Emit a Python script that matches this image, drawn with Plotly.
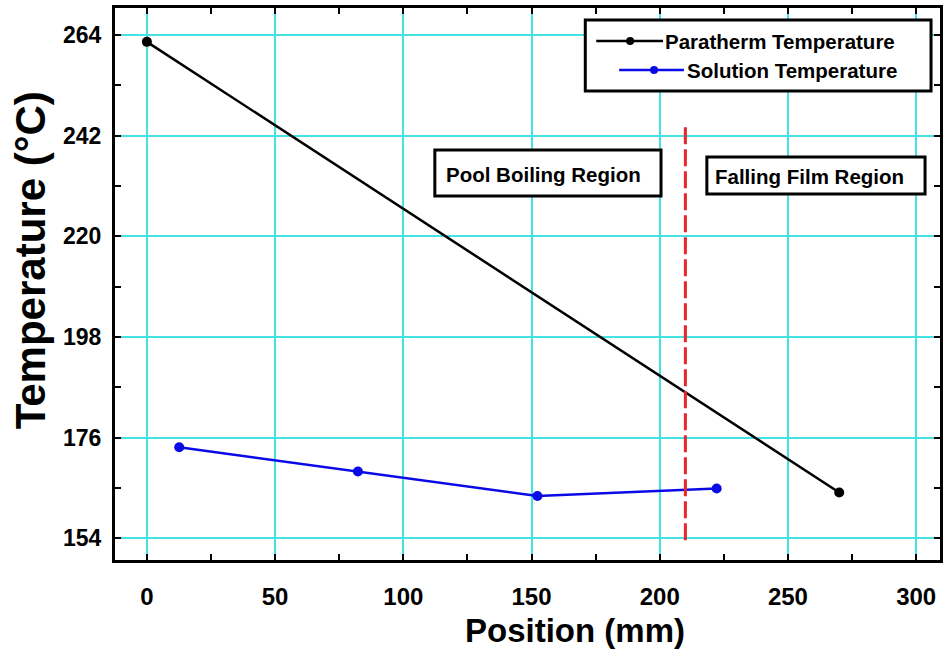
import plotly.graph_objects as go

# Measured temperatures along the evaporator tube
para_x = [0, 270]
para_y = [262.5, 164.0]

sol_x = [12.6, 82.3, 152.3, 222.2]
sol_y = [173.9, 168.6, 163.25, 164.9]

# Boundary between pool boiling and falling film regions
boundary_x = 210
boundary_y = [153.6, 244.4]

x_ticks = [0, 50, 100, 150, 200, 250, 300]
y_ticks = [154, 176, 198, 220, 242, 264]

W, H = 947, 652
ML, MR, MT, MB = 115, 4, 8, 92
PW, PH = W - ML - MR, H - MT - MB


def px(x):
    return (x - ML) / PW


def py(y):
    return (H - MB - y) / PH


GRID = "#45E2E2"
BLACK = "#000000"
BLUE = "#0A0AE6"
RED = "#E8262A"
SANS = "Liberation Sans, Arial"

fig = go.Figure()

fig.add_trace(go.Scatter(
    x=para_x, y=para_y, mode="lines+markers",
    line=dict(color=BLACK, width=2.5),
    marker=dict(color=BLACK, size=10),
    name="Paratherm Temperature", showlegend=False,
))
fig.add_trace(go.Scatter(
    x=sol_x, y=sol_y, mode="lines+markers",
    line=dict(color=BLUE, width=2.5),
    marker=dict(color=BLUE, size=10),
    name="Solution Temperature", showlegend=False,
))

shapes = []
annotations = []

# dashed region boundary
shapes.append(dict(
    type="line", xref="x", yref="y",
    x0=boundary_x, x1=boundary_x, y0=boundary_y[0], y1=boundary_y[1],
    line=dict(color=RED, width=3, dash="17px,5px"), layer="above",
))

# region label boxes
label_font = dict(family=SANS, size=20.5, color=BLACK, weight="bold")
for (x0, y0, x1, y1), (tx, ty), text in [
    ((436, 150, 663, 196), (545.3, 174), "Pool Boiling Region"),
    ((709, 157, 928, 194), (812.5, 176), "Falling Film Region"),
]:
    shapes.append(dict(
        type="rect", xref="paper", yref="paper",
        x0=px(x0), x1=px(x1), y0=py(y1), y1=py(y0),
        line=dict(color=BLACK, width=3), fillcolor="white", layer="above",
    ))
    annotations.append(dict(
        xref="paper", yref="paper", x=px(tx), y=py(ty),
        xanchor="center", yanchor="middle", showarrow=False,
        text=text, font=label_font,
    ))

# legend box
shapes.append(dict(
    type="rect", xref="paper", yref="paper",
    x0=px(587), x1=px(934), y0=py(91), y1=py(20),
    line=dict(color=BLACK, width=3), fillcolor="white", layer="above",
))
for (lx0, lx1, mx, ry, tx), color, text in [
    ((598, 665, 632, 41, 666), BLACK, "Paratherm Temperature"),
    ((621, 686, 656, 70, 688), BLUE, "Solution Temperature"),
]:
    shapes.append(dict(
        type="line", xref="paper", yref="paper",
        x0=px(lx0), x1=px(lx1), y0=py(ry), y1=py(ry),
        line=dict(color=color, width=2.5), layer="above",
    ))
    shapes.append(dict(
        type="circle", xref="paper", yref="paper",
        xsizemode="pixel", ysizemode="pixel",
        xanchor=px(mx), yanchor=py(ry),
        x0=-4, x1=4, y0=-4, y1=4,
        line=dict(color=color, width=0), fillcolor=color, layer="above",
    ))
    annotations.append(dict(
        xref="paper", yref="paper", x=px(tx), y=py(ry),
        xanchor="left", yanchor="middle", showarrow=False,
        text=text, font=label_font, borderpad=0,
    ))

# axis titles
annotations.append(dict(
    xref="paper", yref="paper", x=px(577), y=py(630),
    xanchor="center", yanchor="middle", showarrow=False,
    text="Position (mm)",
    font=dict(family=SANS, size=33, color=BLACK, weight="bold"),
))
annotations.append(dict(
    xref="paper", yref="paper", x=px(30), y=py(260),
    xanchor="center", yanchor="middle", showarrow=False, textangle=-90,
    text="Temperature (°C)",
    font=dict(family=SANS, size=42, color=BLACK, weight="bold"),
))

fig.update_layout(
    width=W, height=H,
    margin=dict(l=ML, r=MR, t=MT, b=MB),
    paper_bgcolor="white", plot_bgcolor="white",
    shapes=shapes, annotations=annotations,
    showlegend=False,
)

fig.update_xaxes(
    range=[-12.44, 309.3],
    tickmode="array", tickvals=x_ticks, ticktext=[str(v) for v in x_ticks],
    showgrid=True, gridcolor=GRID, gridwidth=1.5,
    zeroline=False,
    showline=True, linecolor=BLACK, linewidth=3, mirror="allticks",
    ticks="", ticklabelstandoff=13,
    minor=dict(dtick=25, tick0=0, ticks="inside", ticklen=6, tickwidth=1.5,
               tickcolor=BLACK, showgrid=False),
    tickfont=dict(family=SANS, size=24, color=BLACK, weight="bold"),
)
fig.update_yaxes(
    range=[149.26, 269.9],
    tickmode="array", tickvals=y_ticks, ticktext=[str(v) for v in y_ticks],
    showgrid=True, gridcolor=GRID, gridwidth=1.5,
    zeroline=False,
    showline=True, linecolor=BLACK, linewidth=3, mirror="allticks",
    ticks="", ticklabelstandoff=6,
    minor=dict(dtick=11, tick0=154, ticks="inside", ticklen=6, tickwidth=1.5,
               tickcolor=BLACK, showgrid=False),
    tickfont=dict(family=SANS, size=23, color=BLACK, weight="bold"),
)

fig.write_html("out.html")
